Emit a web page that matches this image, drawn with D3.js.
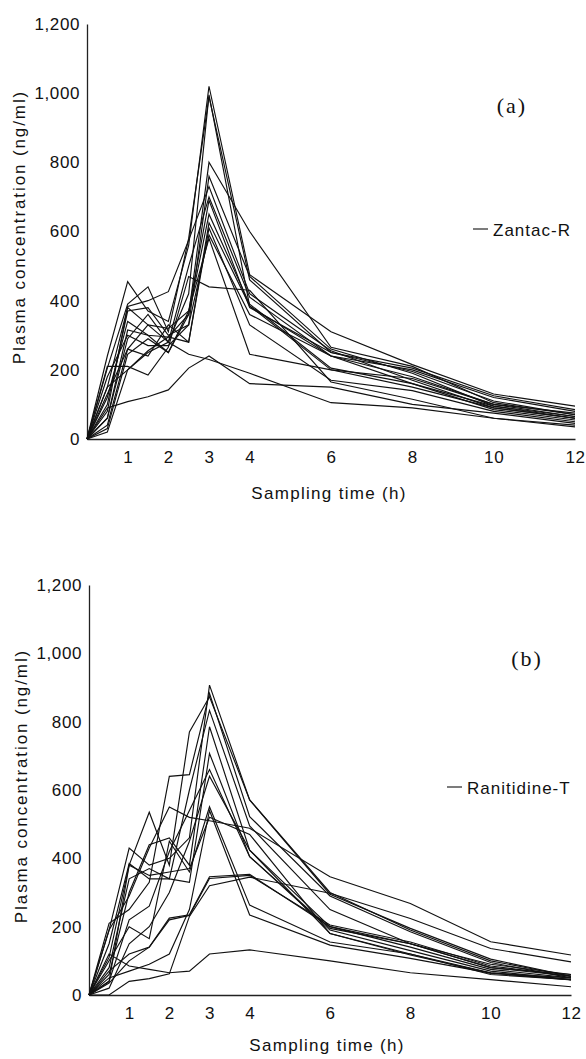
<!DOCTYPE html>
<html>
<head>
<meta charset="utf-8">
<script src="https://cdn.jsdelivr.net/npm/d3@7/dist/d3.min.js"></script>
<style>
  html, body { margin: 0; padding: 0; background: #fff; }
  svg { display: block; }
</style>
</head>
<body>
<svg id="chart" width="586" height="1059"></svg>
<script>
// Sampling times (h)
const times = [0, 0.5, 1, 1.5, 2, 2.5, 3, 4, 6, 8, 10, 12];
const xTickValues = [1, 2, 3, 4, 6, 8, 10, 12];
const yTickValues = [0, 200, 400, 600, 800, 1000, 1200];

// Panel (a) Zantac-R : plasma concentration (ng/ml) per subject
const zantacR = [
  [0, 240, 455, 370, 340, 560, 1020, 475, 310, 215, 130, 95],
  [0, 205, 390, 440, 310, 580, 990, 460, 250, 205, 125, 85],
  [0, 150, 380, 330, 280, 420, 995, 384, 240, 200, 120, 80],
  [0, 120, 340, 300, 295, 360, 800, 600, 265, 210, 105, 70],
  [0, 100, 370, 380, 300, 330, 760, 470, 260, 190, 95, 65],
  [0, 80, 383, 400, 426, 575, 730, 420, 255, 170, 90, 60],
  [0, 60, 290, 360, 280, 500, 700, 410, 240, 180, 100, 75],
  [0, 40, 260, 330, 320, 370, 690, 380, 250, 195, 110, 70],
  [0, 30, 245, 290, 250, 360, 650, 390, 205, 160, 85, 55],
  [0, 20, 200, 255, 295, 280, 625, 385, 200, 150, 90, 60],
  [0, 130, 260, 240, 330, 280, 610, 330, 170, 140, 80, 50],
  [0, 180, 300, 270, 270, 330, 590, 360, 240, 160, 95, 60],
  [0, 210, 210, 185, 265, 470, 440, 430, 165, 115, 60, 40],
  [0, 90, 108, 122, 142, 205, 240, 160, 150, 100, 75, 45],
  [0, 150, 200, 250, 280, 245, 230, 190, 105, 90, 60, 35],
  [0, 60, 315, 300, 250, 370, 580, 245, 200, 175, 100, 65]
];

// Panel (b) Ranitidine-T : plasma concentration (ng/ml) per subject
const ranitidineT = [
  [0, 190, 430, 380, 400, 460, 907, 571, 300, 190, 100, 55],
  [0, 210, 250, 330, 640, 645, 883, 522, 290, 185, 95, 50],
  [0, 110, 380, 535, 380, 770, 873, 571, 295, 195, 105, 55],
  [0, 150, 385, 340, 340, 600, 833, 495, 250, 150, 80, 55],
  [0, 60, 300, 440, 460, 380, 785, 424, 200, 140, 75, 50],
  [0, 80, 340, 370, 340, 330, 707, 405, 195, 150, 90, 60],
  [0, 40, 220, 260, 420, 540, 660, 405, 190, 130, 70, 45],
  [0, 20, 150, 200, 300, 450, 640, 424, 180, 120, 65, 45],
  [0, 100, 200, 165, 450, 360, 551, 263, 155, 120, 60, 45],
  [0, 190, 290, 430, 550, 520, 510, 488, 346, 268, 156, 117],
  [0, 70, 120, 140, 225, 235, 346, 353, 200, 150, 80, 60],
  [0, 35, 100, 140, 220, 233, 341, 350, 205, 155, 85, 55],
  [0, 0, 40, 48, 62, 230, 320, 345, 298, 224, 136, 97],
  [0, 120, 85, 75, 65, 70, 120, 132, 100, 65, 45, 24],
  [0, 50, 70, 90, 120, 250, 540, 234, 146, 107, 64, 44],
  [0, 40, 380, 350, 360, 370, 520, 470, 180, 117, 64, 50]
];

const panels = [
  { data: zantacR, legend: "Zantac-R", tag: "(a)",
    x0: 87, x1: 575, y0: 439, y1: 24,
    yTitleX: 19, yTitleY: 227, xTitleX: 329, xTitleY: 499,
    legX: 473, legY: 229, tagX: 512, tagY: 113 },
  { data: ranitidineT, legend: "Ranitidine-T", tag: "(b)",
    x0: 89, x1: 571, y0: 995, y1: 585,
    yTitleX: 21, yTitleY: 786, xTitleX: 327, xTitleY: 1051,
    legX: 447, legY: 787, tagX: 527, tagY: 666 }
];

const SANS = "'Liberation Sans', Arial, Helvetica, sans-serif";
const SERIF = "'Liberation Serif', 'Times New Roman', serif";

const svg = d3.select("#chart");
const fmt = d3.format(",");

panels.forEach(p => {
  const x = d3.scaleLinear().domain([0, 12]).range([p.x0, p.x1]);
  const y = d3.scaleLinear().domain([0, 1200]).range([p.y0, p.y1]);
  const g = svg.append("g");

  // Y axis
  const yAxis = d3.axisLeft(y).tickValues(yTickValues).tickFormat(fmt).tickSize(0).tickPadding(7);
  const ya = g.append("g").attr("transform", `translate(${p.x0},0)`).call(yAxis);
  ya.select(".domain").attr("stroke", "#222").attr("stroke-width", 1.3);
  ya.selectAll("text").style("font-family", SANS).style("font-size", "17px")
    .attr("letter-spacing", 0.6).attr("fill", "#111");

  // X axis
  const xAxis = d3.axisBottom(x).tickValues(xTickValues).tickSize(0).tickPadding(12);
  const xa = g.append("g").attr("transform", `translate(0,${p.y0})`).call(xAxis);
  xa.select(".domain").attr("stroke", "#222").attr("stroke-width", 1.3);
  xa.selectAll("text").style("font-family", SANS).style("font-size", "17px")
    .attr("letter-spacing", 0.6).attr("fill", "#111");

  // Lines
  const line = d3.line().x((d, i) => x(times[i])).y(d => y(d));
  g.append("g").selectAll("path").data(p.data).join("path")
    .attr("d", line)
    .attr("fill", "none")
    .attr("stroke", "#111")
    .attr("stroke-width", 1.15)
    .attr("stroke-linejoin", "miter");

  // Axis titles
  g.append("text")
    .attr("transform", `translate(${p.yTitleX},${p.yTitleY}) rotate(-90)`)
    .attr("text-anchor", "middle").attr("dominant-baseline", "central")
    .style("font-family", SANS).style("font-size", "17px")
    .attr("letter-spacing", 1.9).attr("fill", "#111")
    .text("Plasma concentration (ng/ml)");
  g.append("text")
    .attr("x", p.xTitleX).attr("y", p.xTitleY)
    .attr("text-anchor", "middle")
    .style("font-family", SANS).style("font-size", "17px")
    .attr("letter-spacing", 1.3).attr("fill", "#111")
    .text("Sampling time (h)");

  // Legend
  g.append("line")
    .attr("x1", p.legX).attr("x2", p.legX + 15)
    .attr("y1", p.legY).attr("y2", p.legY)
    .attr("stroke", "#111").attr("stroke-width", 1.1);
  g.append("text")
    .attr("x", p.legX + 20).attr("y", p.legY + 1)
    .attr("dominant-baseline", "central")
    .style("font-family", SANS).style("font-size", "17px")
    .attr("letter-spacing", 1.0).attr("fill", "#111")
    .text(p.legend);

  // Panel tag
  g.append("text")
    .attr("x", p.tagX).attr("y", p.tagY)
    .attr("text-anchor", "middle")
    .style("font-family", SERIF).style("font-size", "22px")
    .attr("letter-spacing", 2).attr("fill", "#111")
    .text(p.tag);
});
</script>
</body>
</html>
